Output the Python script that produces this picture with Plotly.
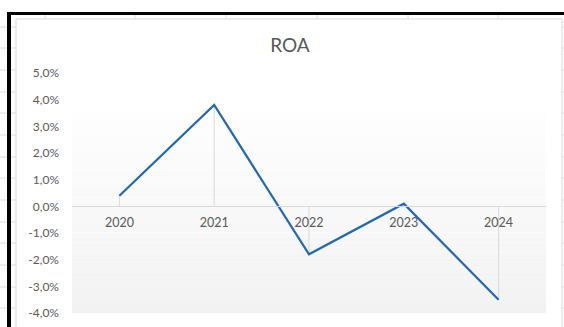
import plotly.graph_objects as go

# ROA by year, in percent
years = ["2020", "2021", "2022", "2023", "2024"]
roa = [0.4, 3.8, -1.8, 0.1, -3.5]
y_ticks = [5, 4, 3, 2, 1, 0, -1, -2, -3, -4]
y_labels = [f"{v:.1f}".replace(".", ",") + "%" for v in y_ticks]

W, H = 564, 327
L, R, T, B = 72, 18, 73, 14
PW, PH = W - L - R, H - T - B


def px_x(px):
    return (px - L) / PW


def px_y(py):
    return (H - B - py) / PH


fig = go.Figure()

# drop lines from each point down/up to the category axis
dx, dy = [], []
for yr, v in zip(years, roa):
    dx += [yr, yr, None]
    dy += [0, v, None]
fig.add_trace(go.Scatter(x=dx, y=dy, mode="lines",
                         line=dict(color="#d9d9d9", width=1),
                         hoverinfo="skip", showlegend=False))

fig.add_trace(go.Scatter(x=years, y=roa, mode="lines",
                         line=dict(color="#1f67b8", width=2.2),
                         showlegend=False))

shapes = []
# soft vertical gradient behind the plot
top_px, bot_px, n = 112, 313, 40
c0, c1 = 254, 242
for i in range(n):
    y0 = top_px + (bot_px - top_px) * i / n
    y1 = top_px + (bot_px - top_px) * (i + 1) / n
    c = round(c0 + (c1 - c0) * (i + 0.5) / n)
    shapes.append(dict(type="rect", xref="paper", yref="paper", layer="below",
                       x0=0, x1=1, y0=px_y(y1), y1=px_y(y0),
                       fillcolor=f"rgb({c},{c},{c})", line=dict(width=0)))

# worksheet cell lines peeking around the chart
grid = "#dcdcdc"
for ry in [27, 48, 70, 92, 113, 135, 157, 178, 200, 222, 243, 265, 287, 308]:
    for a, b in [(0, 7), (11, 16), (562, 564)]:
        shapes.append(dict(type="line", xref="paper", yref="paper",
                           x0=px_x(a), x1=px_x(b), y0=px_y(ry), y1=px_y(ry),
                           line=dict(color=grid, width=1)))
for cx in [45, 135, 226, 317, 408, 498]:
    shapes.append(dict(type="line", xref="paper", yref="paper",
                       x0=px_x(cx), x1=px_x(cx), y0=px_y(15), y1=px_y(19),
                       line=dict(color=grid, width=1)))

# chart border
shapes.append(dict(type="rect", xref="paper", yref="paper",
                   x0=px_x(16), x1=px_x(562), y0=px_y(H + 5), y1=px_y(19),
                   line=dict(color="#d9d9d9", width=1)))
# heavy black frame
shapes.append(dict(type="line", xref="paper", yref="paper",
                   x0=px_x(7), x1=px_x(W + 2), y0=px_y(13.5), y1=px_y(13.5),
                   line=dict(color="#000000", width=3)))
shapes.append(dict(type="line", xref="paper", yref="paper",
                   x0=px_x(9), x1=px_x(9), y0=px_y(12), y1=px_y(H + 2),
                   line=dict(color="#000000", width=4)))

fig.update_layout(
    width=W, height=H,
    margin=dict(l=L, r=R, t=T, b=B, autoexpand=False),
    paper_bgcolor="white", plot_bgcolor="rgba(0,0,0,0)",
    font=dict(family="Lato, Liberation Sans, Arial, sans-serif", color="#595959", size=12),
    title=dict(text="ROA", x=290 / W, xanchor="center",
               y=1 - 45 / H, yanchor="middle",
               font=dict(size=19, color="#595959")),
    shapes=shapes,
    xaxis=dict(type="category", anchor="free", position=4 / 9,
               showline=True, linecolor="#d9d9d9", linewidth=1,
               showgrid=False, ticks="", ticklabelstandoff=5,
               tickfont=dict(size=12.5, color="#595959"),
               range=[-0.5, 4.5], fixedrange=True, automargin=False),
    yaxis=dict(range=[-4, 5], tickvals=y_ticks, ticktext=y_labels,
               showgrid=False, zeroline=False, showline=False, ticks="",
               ticklabelstandoff=12, automargin=False,
               tickfont=dict(size=12, color="#595959"), fixedrange=True),
)

fig.write_html("out.html")
